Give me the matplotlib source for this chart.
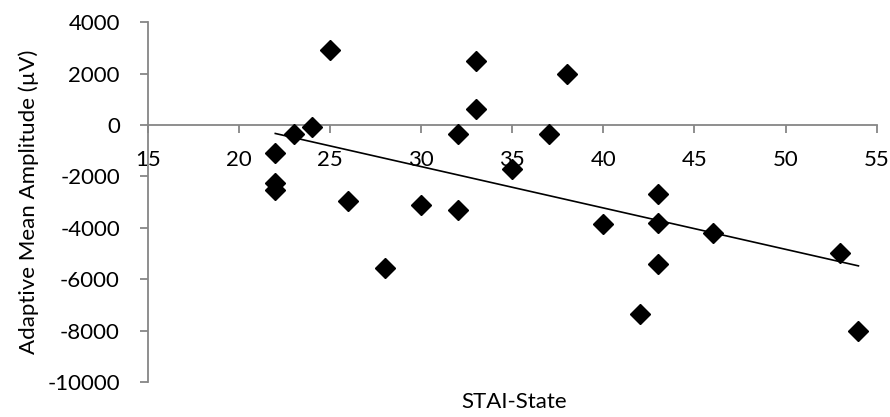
import numpy as np
import matplotlib
matplotlib.use("Agg")
import matplotlib.pyplot as plt

plt.rcParams['font.family'] = ['Lato', 'DejaVu Sans']

# STAI-State score vs adaptive mean amplitude
stai = [25, 33, 38, 33, 24, 23, 32, 37, 22, 22, 22, 26, 30, 32, 35, 28,
        40, 43, 43, 43, 42, 46, 53, 54]
amp = [2900, 2500, 2000, 600, -100, -350, -350, -350, -1100, -2250, -2550,
       -2950, -3100, -3300, -1700, -5550, -3850, -2700, -3800, -5400,
       -7350, -4200, -5000, -8000]

xticks = [15, 20, 25, 30, 35, 40, 45, 50, 55]
yticks = [-10000, -8000, -6000, -4000, -2000, 0, 2000, 4000]

grey = '#868686'
fs = 16

fig = plt.figure(figsize=(8.9, 4.17), dpi=100)
ax = fig.add_axes([0.166, 0.084, 0.819, 0.863])

ax.plot(stai, amp, 'D', color='black', ms=10.2, mec='black', zorder=3)

# linear trendline
k, b = np.polyfit(stai, amp, 1)
xs = np.array([min(stai), max(stai)])
ax.plot(xs, k * xs + b, color='black', lw=1.2, zorder=2)

ax.set_xlim(15, 55)
ax.set_ylim(-10000, 4000)
ax.set_xticks(xticks)
ax.set_yticks(yticks)
ax.set_xticklabels([str(t) for t in xticks])
ax.set_yticklabels([str(t) for t in yticks])

ax.spines['top'].set_visible(False)
ax.spines['right'].set_visible(False)
ax.spines['bottom'].set_position(('data', 0))
for s in ('left', 'bottom'):
    ax.spines[s].set_color(grey)
    ax.spines[s].set_linewidth(1.3)

ax.tick_params(axis='x', direction='out', length=6, color=grey, width=1.3,
               labelsize=fs, pad=12, labelcolor='black')
ax.tick_params(axis='y', direction='out', length=6, color=grey, width=1.3,
               labelsize=fs, pad=14, labelcolor='black')

ax.set_ylabel('Adaptive Mean Amplitude (µV)', fontsize=fs, labelpad=6)
fig.text(0.578, 0.035, 'STAI-State', ha='center', va='center', fontsize=fs)

fig.savefig('out.png', dpi=100)
